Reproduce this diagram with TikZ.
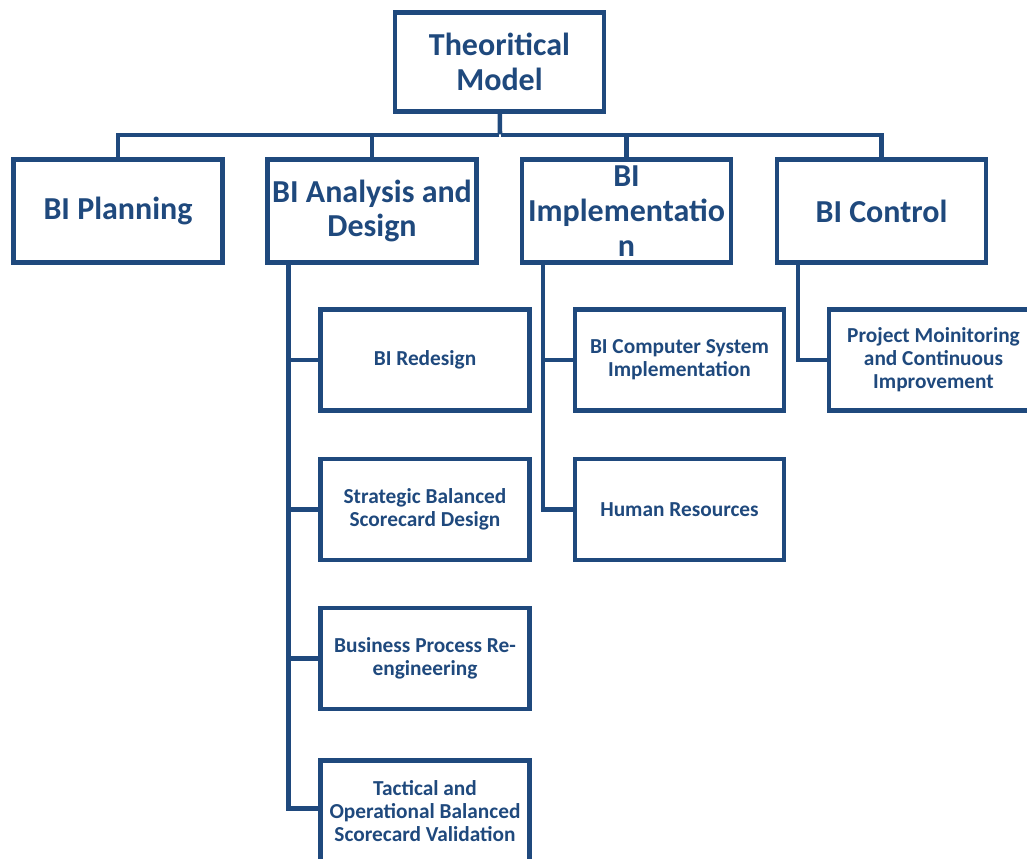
\documentclass[tikz,border=0pt]{standalone}
\usepackage{xcolor}
\usepackage{fontspec}
\setmainfont{Carlito}
\usepackage{tikz}
\usetikzlibrary{positioning}
\definecolor{bidark}{HTML}{1F497D}
\tikzstyle{bigbox} = [draw=bidark, line width=3.4pt, text=bidark, inner sep=0pt, align=center, minimum width=156.5pt, minimum height=77.5pt, font=\bfseries\fontsize{24}{26}\selectfont]
\tikzstyle{smallbox} = [draw=bidark, line width=3.4pt, text=bidark, inner sep=0pt, align=center, minimum width=156.5pt, minimum height=76pt, font=\bfseries\fontsize{16}{17.3}\selectfont]
\tikzstyle{link} = [draw=bidark, line width=3.4pt]

\begin{document}
\begin{tikzpicture}[x=0.75pt, y=-0.75pt]
\useasboundingbox (0,0) rectangle (1027,859);
\node at (499.5, 62) [bigbox, minimum height=74.5pt] (Model) {Theoritical\\Model};

\node at (500, 135) [inner sep=0, outer sep=0] (m0) {};
\node at (118, 211) [bigbox] (Planning) {BI Planning};
\node at (372, 211) [bigbox] (Design) {BI Analysis and\\Design};
\node at (626.5, 211) [bigbox] (Implementation) {BI\\Implementatio\\n};
\node at (881.5, 211) [bigbox] (Control) {BI Control};
\path [link] (Model) -- (m0);
\path [link] (m0) -| (Planning);
\path [link] (m0) -| (Design);
\path [link] (m0) -| (Implementation);
\path [link] (m0) -| (Control);

% analysis and design
\node at (425, 360) [smallbox] (Redesign) {BI Redesign};
\node at (425, 509.5) [smallbox] (Scorecard) {Strategic Balanced\\Scorecard Design};
\node at (425, 658.5) [smallbox] (Reengineering) {Business Process Re-\\engineering};
\node at (425, 811) [smallbox] (Validation) {Tactical and\\Operational Balanced\\Scorecard Validation};
\path [link] ([xshift=-62.5pt]Design.south) |- (Redesign);
\path [link] ([xshift=-62.5pt]Design.south) |- (Scorecard);
\path [link] ([xshift=-62.5pt]Design.south) |- (Reengineering);
\path [link] ([xshift=-62.5pt]Design.south) |- ([yshift=2pt]Validation.west);

% implementation
\node at (679.5, 360) [smallbox] (System) {BI Computer System\\Implementation};
\node at (679.5, 509.5) [smallbox] (Resources) {Human Resources};
\path [link] ([xshift=-62.5pt]Implementation.south) |- (System);
\path [link] ([xshift=-62.5pt]Implementation.south) |- (Resources);

% control
\node at (933.5, 360) [smallbox] (Monitoring) {Project Moinitoring\\and Continuous\\Improvement};
\path [link] ([xshift=-62.5pt]Control.south) |- (Monitoring);
\end{tikzpicture}
\end{document}
